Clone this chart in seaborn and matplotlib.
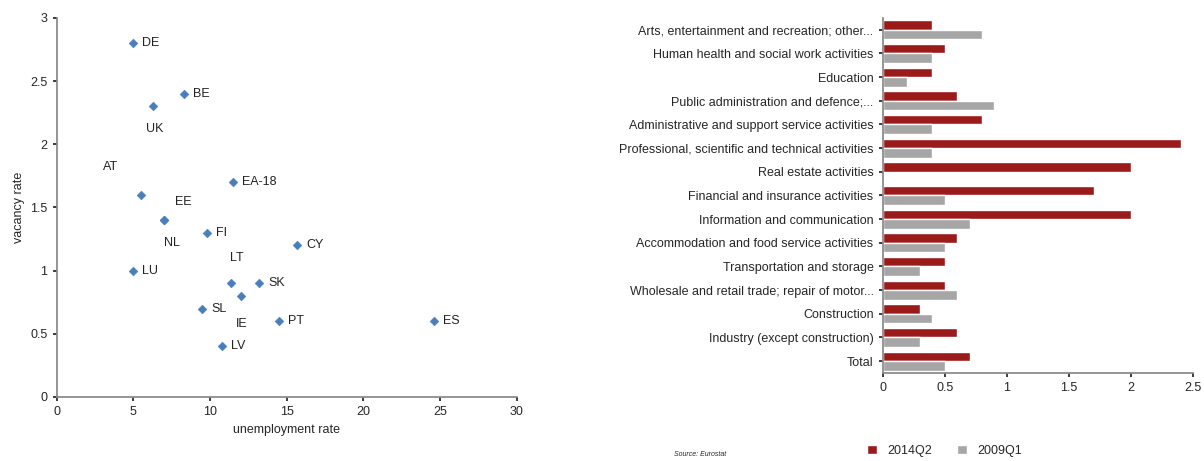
import matplotlib
matplotlib.use("Agg")
import matplotlib.pyplot as plt
import seaborn as sns
import pandas as pd

countries = ["DE","BE","UK","AT","EE","EA-18","NL","FI","CY","LU","LT","SK","IE","SL","PT","ES","LV"]
unemp = [5.0,8.3,6.3,5.5,7.0,11.5,7.0,9.8,15.7,5.0,11.4,13.2,12.0,9.5,14.5,24.6,10.8]
vac = [2.8,2.4,2.3,1.6,1.4,1.7,1.4,1.3,1.2,1.0,0.9,0.9,0.8,0.7,0.6,0.6,0.4]
label_off = {"DE":(0.6,0),"BE":(0.6,0),"UK":(-0.5,-0.18),"AT":(-2.5,0.22),"EE":(0.7,0.14),
             "EA-18":(0.6,0),"NL":(0,-0.18),"FI":(0.6,0),"CY":(0.6,0),"LU":(0.6,0),
             "LT":(-0.1,0.2),"SK":(0.6,0),"IE":(-0.3,-0.22),"SL":(0.6,0),"PT":(0.6,0),
             "ES":(0.6,0),"LV":(0.6,0)}

sectors = ["Arts, entertainment and recreation; other...","Human health and social work activities",
           "Education","Public administration and defence;...","Administrative and support service activities",
           "Professional, scientific and technical activities","Real estate activities",
           "Financial and insurance activities","Information and communication",
           "Accommodation and food service activities","Transportation and storage",
           "Wholesale and retail trade; repair of motor...","Construction",
           "Industry (except construction)","Total"]
v2014 = [0.4,0.5,0.4,0.6,0.8,2.4,2.0,1.7,2.0,0.6,0.5,0.5,0.3,0.6,0.7]
v2009 = [0.8,0.4,0.2,0.9,0.4,0.4,0.0,0.5,0.7,0.5,0.3,0.6,0.4,0.3,0.5]

sns.set_theme(style="white")
plt.rcParams['font.family'] = ['Liberation Sans', 'DejaVu Sans']
fig = plt.figure(figsize=(12.04,4.61), dpi=100)
ax1 = fig.add_axes([0.047,0.139,0.382,0.822])
ax2 = fig.add_axes([0.733,0.191,0.258,0.770])

df = pd.DataFrame({"u":unemp,"v":vac,"c":countries})
sns.scatterplot(data=df, x="u", y="v", marker="D", s=20, color="#4a7ebb", edgecolor="#4a7ebb", ax=ax1)
for c,x,y in zip(countries,unemp,vac):
    dx,dy = label_off[c]
    ax1.text(x+dx,y+dy,c,fontsize=9,va="center",color="#222")
ax1.set_xlim(0,30); ax1.set_ylim(0,3)
ax1.set_xticks(range(0,31,5)); ax1.set_yticks([0,0.5,1,1.5,2,2.5,3])
ax1.set_yticklabels(["0","0.5","1","1.5","2","2.5","3"])
ax1.set_xlabel("unemployment rate", fontsize=9); ax1.set_ylabel("vacancy rate", fontsize=9)
ax1.tick_params(labelsize=9, length=3, direction="out", bottom=True, left=True)

bd = pd.DataFrame({"s":sectors*2,"v":v2014+v2009,"p":["2014Q2"]*15+["2009Q1"]*15})
sns.barplot(data=bd, y="s", x="v", hue="p", palette=["#9b1b1b","#a6a6a6"], orient="h",
            width=0.8, ax=ax2, saturation=1)
ax2.set_xlim(0,2.5); ax2.set_xticks([0,0.5,1,1.5,2,2.5]); ax2.set_xticklabels(["0","0.5","1","1.5","2","2.5"])
ax2.set_xlabel(""); ax2.set_ylabel("")
ax2.tick_params(labelsize=9, length=3, bottom=True, left=True)
ax2.legend(loc="upper center", bbox_to_anchor=(0.2,-0.17), ncol=2, frameon=False, fontsize=9,
           handlelength=0.8, handleheight=0.8, columnspacing=2)
for ax in (ax1,ax2):
    for s in ["top","right"]: ax.spines[s].set_visible(False)
    for s in ["left","bottom"]: ax.spines[s].set_color("#888")
fig.text(0.56,0.01,"Source: Eurostat", fontsize=5, style="italic")
fig.savefig("out.png", dpi=100)
